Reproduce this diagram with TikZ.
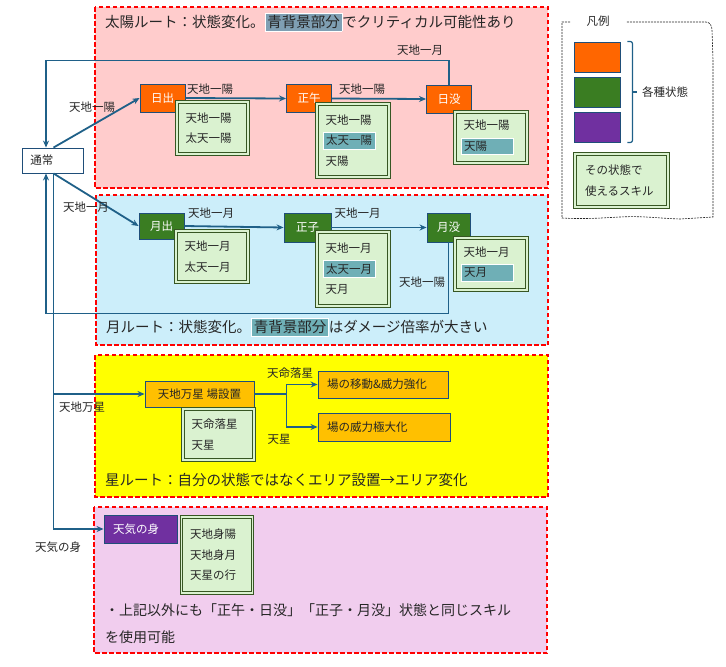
\documentclass[tikz,border=0pt]{standalone}
\usepackage{fontspec}
\setmainfont{Noto Sans CJK JP}
\usetikzlibrary{positioning, arrows.meta}

\definecolor{flowblue}{HTML}{1F6088}
\definecolor{edgeblue}{HTML}{1F4E79}
\definecolor{sunfill}{HTML}{FFCCCC}
\definecolor{moonfill}{HTML}{CCEEFA}
\definecolor{starfill}{HTML}{FFFF00}
\definecolor{bodyfill}{HTML}{F1CDEE}
\definecolor{sunstate}{HTML}{FF6600}
\definecolor{moonstate}{HTML}{3A7D22}
\definecolor{bodystate}{HTML}{7030A0}
\definecolor{fieldfill}{HTML}{FFC000}
\definecolor{skillfill}{HTML}{DAF2D0}
\definecolor{skilledge}{HTML}{375623}
\definecolor{skillhl}{HTML}{6FAFB6}
\definecolor{sunhl}{HTML}{7F9FB3}
\definecolor{inkgray}{HTML}{262626}

\newcommand\hlskill[1]{\hspace*{-3pt}{\fboxsep=3pt\fboxrule=0.6pt\fcolorbox{white}{skillhl}{\makebox[46pt][l]{#1}}}}
\newcommand\hltitle[2]{{\fboxsep=2pt\fboxrule=0.6pt\fcolorbox{white}{#1}{#2}}}

\tikzset{
  route/.style={draw=red, line width=1.6pt, dash pattern=on 4.5pt off 2.5pt},
  state/.style={draw=edgeblue, line width=0.9pt, minimum height=28pt, minimum width=45pt, inner sep=2pt, text=white},
  sunst/.style={state, fill=sunstate},
  moonst/.style={state, fill=moonstate},
  skill/.style={draw=skilledge, double=skillfill, double distance=1.5pt, line width=0.8pt, fill=skillfill,
    align=left, text width=54pt, inner xsep=8.5pt, font=\fontsize{11.5}{20.5}\selectfont},
  areabox/.style={draw=edgeblue, line width=0.9pt, fill=fieldfill, minimum height=27pt, align=left, inner xsep=9pt},
  flow/.style={-{Stealth[length=7pt,width=6pt]}, draw=flowblue, line width=1.8pt},
  lbl/.style={inner sep=1pt},
  heading/.style={anchor=west, inner sep=0pt, font=\fontsize{14.5}{27}\selectfont, align=left},
  legendline/.style={draw=black!85, line width=0.6pt, dash pattern=on 2pt off 1pt}
}

\begin{document}
\begin{tikzpicture}[x=1pt, y=-1pt, font=\fontsize{11.5}{14}\selectfont, text=inkgray]
  \useasboundingbox (0,0) rectangle (726,667);

  % route areas
  \draw[route, fill=sunfill] (95,7) rectangle (548,188);
  \draw[route, fill=moonfill] (96,195) rectangle (548,345);
  \draw[route, fill=starfill] (95,355) rectangle (548,497);
  \draw[route, fill=bodyfill] (94,507) rectangle (547,653);

  \node[heading] (suntitle) at (105,22) {太陽ルート：状態変化。\hltitle{sunhl}{青背景部分}でクリティカル可能性あり};
  \node[heading] (moontitle) at (106,327) {月ルート：状態変化。\hltitle{skillhl}{青背景部分}はダメージ倍率が大きい};
  \node[heading] (startitle) at (105,480) {星ルート：自分の状態ではなくエリア設置→エリア変化};
  \node[heading, font=\fontsize{14}{27}\selectfont] (bodynote) at (105,623.5) {・上記以外にも「正午・日没」「正子・月没」状態と同じスキル\\を使用可能};

  % states
  \node[draw=edgeblue, line width=0.9pt, fill=white, minimum height=25pt, text width=44pt, inner xsep=8.5pt, align=left] (normal) at (52.5,160.5) {通常};

  \node[sunst] (sunrise) at (162.5,98) {日出};
  \node[sunst] (noon) at (309,98.5) {正午};
  \node[sunst] (sunset) at (449,99) {日没};
  \node[skill, minimum height=52pt] (sunriseskill) at (212.5,128) {天地一陽\\太天一陽};
  \node[skill, minimum height=73pt, text width=55pt] (noonskill) at (353,140.5) {天地一陽\\\hlskill{太天一陽}\\天陽};
  \node[skill, minimum height=51pt, text width=55pt] (sunsetskill) at (491,137.5) {天地一陽\\\hlskill{天陽}};

  \node[moonst, minimum height=26pt] (moonrise) at (161.5,226) {月出};
  \node[moonst, minimum width=47pt, minimum height=29pt] (midnight) at (307.5,227.5) {正子};
  \node[moonst, minimum width=43pt, minimum height=29pt] (moonset) at (448.5,227.5) {月没};
  \node[skill, minimum height=51pt, text width=55pt] (moonriseskill) at (212,256.5) {天地一月\\太天一月};
  \node[skill, minimum height=74pt, text width=55pt] (midnightskill) at (353,269) {天地一月\\\hlskill{太天一月}\\天月};
  \node[skill, minimum height=52pt, text width=55pt] (moonsetskill) at (491,264) {天地一月\\\hlskill{天月}};

  \node[draw=edgeblue, line width=0.9pt, fill=fieldfill, minimum width=109pt, minimum height=26pt] (field) at (199.5,394) {天地万星 場設置};
  \node[areabox, text width=112pt] (move) at (383,384.5) {場の移動\&威力強化};
  \node[areabox, text width=114pt, minimum height=28pt] (max) at (384,427) {場の威力極大化};
  \node[skill, minimum height=51pt] (fieldskill) at (218.5,434.5) {天命落星\\天星};

  \node[draw=edgeblue, line width=0.9pt, fill=bodystate, text=white, minimum height=28pt, text width=55pt, inner xsep=9pt, align=left] (weather) at (140.5,529) {天気の身};
  \node[skill, minimum height=76pt] (weatherskill) at (217,555) {天地身陽\\天地身月\\天星の行};

  % transitions
  \draw[flow] ([xshift=1pt]normal.north) -- (sunrise.west);
  \draw[flow] (sunrise.east) -- (noon.west);
  \draw[flow] (noon.east) -- (sunset.west);
  \draw[flow] (sunset.north) -- ++(0,-24) -| ([xshift=-6.5pt]normal.north);

  \draw[flow] ([xshift=1pt]normal.south) -- (moonrise.west);
  \draw[flow] (moonrise.east) -- (midnight.west);
  \draw[flow] (midnight.east) -- (moonset.west);
  \draw[flow] (moonset.south) -- ++(0,71) -| ([xshift=-6.5pt]normal.south);

  \draw[flow] ([xshift=1pt]normal.south) |- (field.west);
  \draw[flow] (field.east) -- ++(32,0) |- (move.west);
  \draw[flow] (field.east) -- ++(32,0) |- (max.west);
  \draw[flow] ([xshift=1pt]normal.south) |- (weather.west);

  \node[lbl] (lsunin) at (92,107) {天地一陽};
  \node[lbl] (lnoon) at (210,89) {天地一陽};
  \node[lbl] (lsunset) at (362,89) {天地一陽};
  \node[lbl] (lsunback) at (420,50) {天地一月};
  \node[lbl] (lmoonin) at (86,207) {天地一月};
  \node[lbl] (lmidnight) at (211,213) {天地一月};
  \node[lbl] (lmoonset) at (357.5,213) {天地一月};
  \node[lbl] (lmoonback) at (422,282) {天地一陽};
  \node[lbl] (lfield) at (82,407) {天地万星};
  \node[lbl] (lfall) at (290,373) {天命落星};
  \node[lbl] (lstar) at (279,439) {天星};
  \node[lbl] (lweather) at (58,547) {天気の身};

  % legend
  \draw[legendline] (570,22) -- (562,22) -- (562,218)
    to[out=-3,in=183] (620,217) to[out=3,in=178] (680,219) -- (713,217)
    -- (713,60) to[out=92,in=-88] (712,30) to[out=90,in=0] (706,22) -- (626,22);
  \node[inner sep=1pt] (legtitle) at (598,21) {凡例};
  \node[state, minimum width=46pt, minimum height=30pt, fill=sunstate] (legsun) at (597,57) {};
  \node[state, minimum width=46pt, minimum height=30pt, fill=moonstate] (legmoon) at (597,92) {};
  \node[state, minimum width=46pt, minimum height=30pt, fill=bodystate] (legbody) at (597,127) {};
  \draw[flowblue, line width=1.2pt, rounded corners=2pt] ([xshift=7pt]legsun.north east) -- ++(5,0) |- ([xshift=7pt]legbody.south east);
  \draw[flowblue, line width=1.2pt] ([xshift=12pt]legmoon.east) -- ++(5,0);
  \node[lbl] (legstates) at (665,92) {各種状態};
  \node[skill, minimum height=53pt, text width=73pt, inner xsep=10pt] (legskill) at (621.5,180.5) {その状態で\\使えるスキル};
\end{tikzpicture}
\end{document}
